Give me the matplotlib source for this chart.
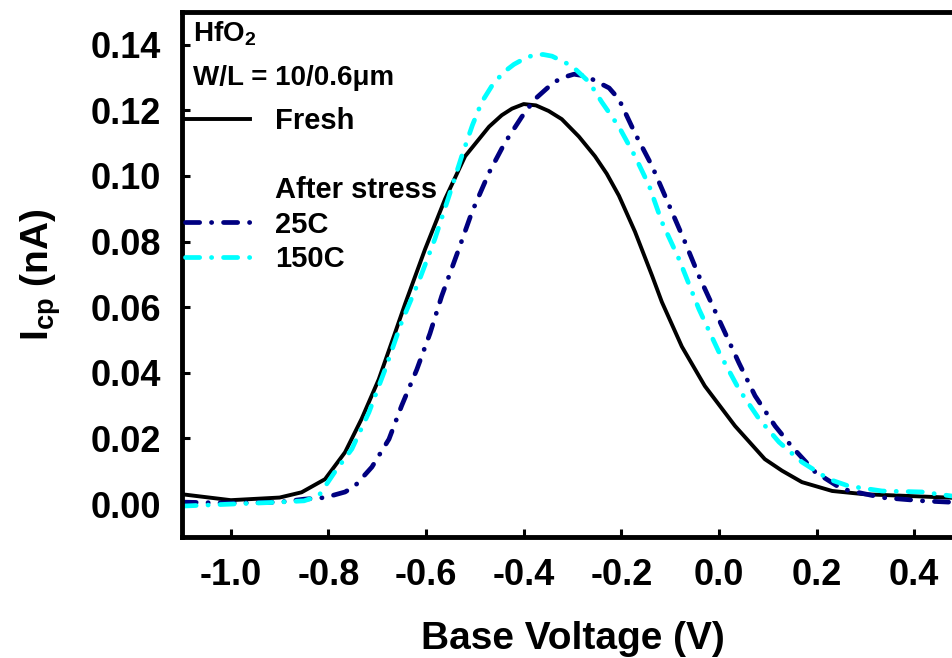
import matplotlib
matplotlib.use("Agg")
import matplotlib.pyplot as plt
from matplotlib.lines import Line2D

plt.rcParams['font.family'] = ['Liberation Sans', 'DejaVu Sans']
plt.rcParams['font.weight'] = 'bold'
plt.rcParams['mathtext.fontset'] = 'custom'
plt.rcParams['mathtext.rm'] = 'Liberation Sans:bold'
plt.rcParams['mathtext.it'] = 'Liberation Sans:bold'
plt.rcParams['mathtext.bf'] = 'Liberation Sans:bold'

# donnees
x_fresh = [-1.10, -1.00, -0.90, -0.855, -0.807, -0.766, -0.732, -0.697, -0.664, -0.643,
           -0.602, -0.561, -0.520, -0.471, -0.445, -0.424, -0.400, -0.375, -0.349, -0.322,
           -0.287, -0.254, -0.230, -0.205, -0.172, -0.137, -0.117, -0.076, -0.029, 0.033,
           0.094, 0.129, 0.170, 0.232, 0.299, 0.402, 0.50]
y_fresh = [0.003, 0.0012, 0.002, 0.0036, 0.0076, 0.0158, 0.026, 0.038, 0.052, 0.061,
           0.0777, 0.093, 0.106, 0.115, 0.1185, 0.1205, 0.1219, 0.1215, 0.1198, 0.1173,
           0.112, 0.106, 0.1007, 0.094, 0.083, 0.0696, 0.0616, 0.048, 0.036, 0.0238,
           0.0137, 0.0102, 0.0067, 0.004, 0.003, 0.0024, 0.0018]

x_25c = [-1.10, -1.00, -0.90, -0.85, -0.807, -0.766, -0.746, -0.711, -0.676, -0.650,
         -0.619, -0.592, -0.568, -0.533, -0.506, -0.471, -0.439, -0.404, -0.377, -0.338,
         -0.315, -0.297, -0.280, -0.260, -0.225, -0.205, -0.172, -0.137, -0.102, -0.070,
         -0.041, 0.006, 0.041, 0.074, 0.115, 0.150, 0.197, 0.252, 0.334, 0.416, 0.50]
y_25c = [0.0006, 0.0003, 0.0006, 0.0015, 0.002, 0.0037, 0.0055, 0.0113, 0.0198, 0.030,
         0.041, 0.052, 0.0634, 0.0777, 0.089, 0.101, 0.110, 0.118, 0.1234, 0.1286,
         0.1302, 0.131, 0.1306, 0.1295, 0.1268, 0.1234, 0.113, 0.103, 0.091, 0.080,
         0.0695, 0.0543, 0.043, 0.033, 0.0238, 0.0174, 0.0098, 0.0046, 0.002, 0.001, 0.0004]

x_150c = [-1.10, -1.00, -0.90, -0.85, -0.82, -0.787, -0.752, -0.717, -0.684, -0.650,
          -0.613, -0.582, -0.553, -0.527, -0.505, -0.486, -0.465, -0.442, -0.420, -0.398,
          -0.377, -0.360, -0.342, -0.301, -0.266, -0.240, -0.205, -0.172, -0.143, -0.117,
          -0.082, -0.041, 0.0, 0.041, 0.082, 0.123, 0.170, 0.225, 0.266, 0.334, 0.416, 0.50]
y_150c = [-0.0006, 0.0, 0.0006, 0.001, 0.0025, 0.0098, 0.0168, 0.028, 0.041, 0.0555,
          0.0686, 0.0808, 0.0939, 0.106, 0.1155, 0.1225, 0.1275, 0.1315, 0.134, 0.1358,
          0.137, 0.137, 0.1365, 0.1335, 0.1286, 0.1225, 0.115, 0.106, 0.097, 0.086,
          0.0747, 0.0594, 0.0463, 0.035, 0.026, 0.0189, 0.0128, 0.0076, 0.0055, 0.004,
          0.0037, 0.002]

xticks = [-1.0, -0.8, -0.6, -0.4, -0.2, 0.0, 0.2, 0.4]
yticks = [0.00, 0.02, 0.04, 0.06, 0.08, 0.10, 0.12, 0.14]

fig = plt.figure(figsize=(9.53, 6.58), dpi=100)
ax = fig.add_axes([0.191, 0.184, 0.8195, 0.798])

dashdot = (0, (3.0, 2.5, 0.05, 2.5))
l_fresh, = ax.plot(x_fresh, y_fresh, color='black', lw=2.8)
l_25, = ax.plot(x_25c, y_25c, color='#000080', lw=3.4, linestyle=dashdot,
                dash_capstyle='round')
l_150, = ax.plot(x_150c, y_150c, color='#00FFFF', lw=3.4, linestyle=dashdot,
                 dash_capstyle='round')

ax.set_xlim(-1.1, 0.5)
ax.set_ylim(-0.01, 0.15)
ax.set_xticks(xticks)
ax.set_yticks(yticks)
ax.set_xticklabels(['%.1f' % v for v in xticks])
ax.set_yticklabels(['%.2f' % v for v in yticks])
ax.tick_params(direction='in', length=6, width=2.2, labelsize=26, pad=15,
               top=False, right=False)
for s in ax.spines.values():
    s.set_linewidth(3.5)

ax.set_xlabel('Base Voltage (V)', fontsize=28, fontweight='bold', labelpad=20)
ax.set_ylabel(r'I$_{\mathrm{cp}}$ (nA)', fontsize=28, fontweight='bold', labelpad=20)

ax.text(0.014, 0.943, r'HfO$_2$', transform=ax.transAxes, fontsize=20,
        fontweight='bold', va='baseline')
ax.text(0.014, 0.861, 'W/L = 10/0.6μm', transform=ax.transAxes, fontsize=20,
        fontweight='bold', va='baseline')

vide = Line2D([], [], color='none')
ax.legend([l_fresh, vide, vide, l_25, l_150],
          ['Fresh', '', 'After stress', '25C', '150C'],
          loc='upper left', bbox_to_anchor=(0.004, 0.818), frameon=False,
          prop={'size': 21, 'weight': 'bold'}, handlelength=2.23,
          handletextpad=0.86, labelspacing=0.22, borderpad=0, borderaxespad=0)

plt.savefig('out.png', dpi=100)
